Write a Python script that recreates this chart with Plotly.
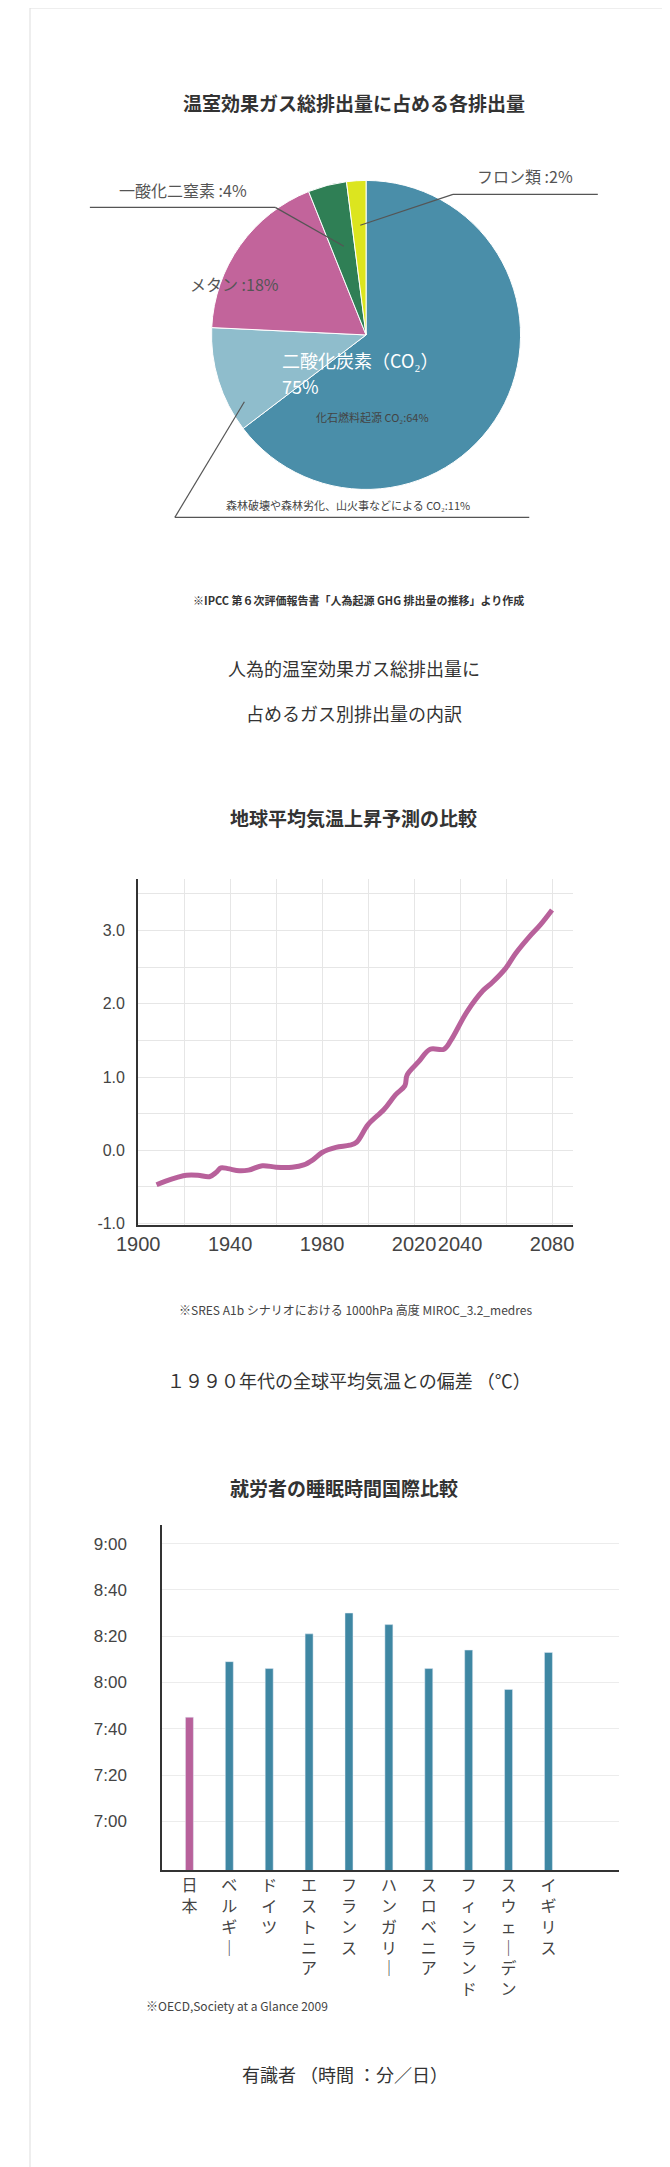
import plotly.graph_objects as go

W, H = 670, 2167

# --- pie data ---
gas_labels = ["化石燃料起源 CO₂", "森林破壊等による CO₂", "メタン", "一酸化二窒素", "フロン類"]
gas_share = [64, 11, 18, 4, 2]
gas_colors = ["#4a8ea9", "#8fbdcc", "#c2649b", "#2f7f55", "#dce51f"]

# --- line data (1990年代との偏差) ---
years = [1908, 1912, 1917, 1921, 1926, 1931, 1934, 1936, 1939, 1944, 1948, 1954, 1960,
         1967, 1972, 1976, 1980, 1986, 1992, 1995, 2000, 2007, 2012, 2016, 2017, 2022,
         2027, 2033, 2036, 2043, 2050, 2054, 2060, 2064, 2070, 2075, 2080]
temp_dev = [-0.47, -0.42, -0.37, -0.34, -0.34, -0.36, -0.30, -0.24, -0.25, -0.28, -0.27,
            -0.21, -0.23, -0.23, -0.20, -0.13, -0.03, 0.04, 0.07, 0.11, 0.35, 0.56, 0.76,
            0.88, 1.03, 1.21, 1.38, 1.38, 1.50, 1.89, 2.18, 2.29, 2.49, 2.68, 2.91, 3.08, 3.28]
year_ticks = [1900, 1940, 1980, 2020, 2040, 2080]
temp_ticks = [-1, 0, 1, 2, 3]
temp_ticktext = ["-1.0", "0.0", "1.0", "2.0", "3.0"]

# --- bar data (minutes per day) ---
countries = ["日本", "ベルギー", "ドイツ", "エストニア", "フランス", "ハンガリー",
             "スロベニア", "フィンランド", "スウェーデン", "イギリス"]
sleep_min = [465, 489, 486, 501, 510, 505, 486, 494, 477, 493]
time_ticks = [420, 440, 460, 480, 500, 520, 540]
time_ticktext = ["7:00", "7:20", "7:40", "8:00", "8:20", "8:40", "9:00"]

pink = "#b8619b"
blue = "#3f87a3"
txt = "#333333"
font_jp = "Noto Sans CJK JP"


def py(px):
    return 1 - px / H


def px_x(px):
    return px / W


def vertical(s):
    return "<br>".join("｜" if c == "ー" else c for c in s)


fig = go.Figure()

fig.add_trace(go.Pie(
    values=gas_share, labels=gas_labels, sort=False, direction="clockwise", rotation=0,
    marker=dict(colors=gas_colors, line=dict(color="white", width=1)),
    textinfo="none", hoverinfo="label+percent", showlegend=False,
    domain=dict(x=[px_x(188), px_x(508)], y=[py(487), py(169)])))

fig.add_trace(go.Scatter(
    x=years, y=temp_dev, mode="lines", line=dict(color=pink, width=5, shape="spline"),
    showlegend=False, xaxis="x", yaxis="y"))

fig.add_trace(go.Bar(
    x=list(range(len(countries))), y=sleep_min, base=0, width=0.2,
    marker=dict(color=[pink] + [blue] * (len(countries) - 1)),
    showlegend=False, xaxis="x2", yaxis="y2",
    customdata=countries, hovertemplate="%{customdata}: %{y}<extra></extra>"))

fig.update_layout(
    width=W, height=H, margin=dict(l=0, r=0, t=0, b=0),
    paper_bgcolor="white", plot_bgcolor="white",
    font=dict(family=font_jp, color=txt),
    xaxis=dict(domain=[px_x(112), px_x(562)], range=[1900, 2089], tickvals=year_ticks,
               tickangle=0, tickfont=dict(size=20, family="Liberation Sans", color="#444"),
               showgrid=False, minor=dict(dtick=20, tick0=1900, showgrid=True, gridcolor="#e6e6e6"),
               showline=True, linecolor="#333", linewidth=2, zeroline=False, ticks=""),
    yaxis=dict(domain=[py(1221), py(874)], range=[-1.02, 3.7], tickvals=temp_ticks,
               ticktext=temp_ticktext, tickfont=dict(size=16, family="Liberation Sans", color="#444"),
               gridcolor="#e6e6e6", minor=dict(dtick=0.5, tick0=0, showgrid=True, gridcolor="#e6e6e6"),
               showline=True, linecolor="#333", linewidth=2, zeroline=False, ticklabelstandoff=8),
    xaxis2=dict(domain=[px_x(137), px_x(610)], range=[-0.68, 10.77], tickvals=list(range(len(countries))),
                ticktext=[vertical(c) for c in countries], tickangle=0,
                tickfont=dict(size=16, color="#444"), showgrid=False, zeroline=False,
                showline=True, linecolor="#333", linewidth=2, ticks="", anchor="y2"),
    yaxis2=dict(domain=[py(1868), py(1522)], range=[399, 548], tickvals=time_ticks,
                ticktext=time_ticktext, tickfont=dict(size=17, family="Liberation Sans", color="#444"),
                gridcolor="#ececec", showline=True, linecolor="#333", linewidth=2,
                zeroline=False, anchor="x2", ticklabelstandoff=30),
)

notes = [
    ("温室効果ガス総排出量に占める各排出量", 335, 95, 19, txt, "center", True),
    ("フロン類 :2%", 513, 169, 16, "#555", "center", False),
    ("一酸化二窒素 :4%", 158, 183, 16, "#555", "center", False),
    ("メタン :18%", 212, 277, 16, "#555", "center", False),
    ("二酸化炭素（CO₂）", 259, 353, 18, "white", "left", False),
    ("75%", 259, 379, 18, "white", "left", False),
    ("化石燃料起源 CO₂:64%", 355, 410, 11, "#444", "center", False),
    ("森林破壊や森林劣化、山火事などによる CO₂:11%", 329, 499, 11, "#444", "center", False),
    ("※IPCC 第６次評価報告書「人為起源 GHG 排出量の推移」より作成", 340, 594, 11, "#333", "center", True),
    ("人為的温室効果ガス総排出量に", 335, 662, 18, txt, "center", False),
    ("占めるガス別排出量の内訳", 335, 707, 18, txt, "center", False),
    ("地球平均気温上昇予測の比較", 335, 812, 19, txt, "center", True),
    ("※SRES A1b シナリオにおける 1000hPa 高度 MIROC_3.2_medres", 337, 1306, 12, "#444", "center", False),
    ("１９９０年代の全球平均気温との偏差 （℃）", 330, 1376, 18, txt, "center", False),
    ("就労者の睡眠時間国際比較", 325, 1484, 19, txt, "center", True),
    ("※OECD,Society at a Glance 2009", 118, 2004, 12, "#444", "left", False),
    ("有識者 （時間 ：分／日）", 326, 2073, 18, txt, "center", False),
]
for text, x, y, size, color, align, bold in notes:
    fig.add_annotation(text=f"<b>{text}</b>" if bold else text, x=px_x(x), y=py(y),
                       xref="paper", yref="paper", xanchor=align, yanchor="middle",
                       showarrow=False, font=dict(size=size, color=color))

# leader lines for the pie labels
leaders = [
    [(588, 187), (438, 187), (342, 218)],
    [(62, 200), (254, 200), (325, 239)],
    [(222, 395), (150, 511), (517, 511)],
]
for pts in leaders:
    for (x0, y0), (x1, y1) in zip(pts[:-1], pts[1:]):
        fig.add_shape(type="line", xref="paper", yref="paper",
                      x0=px_x(x0), y0=py(y0), x1=px_x(x1), y1=py(y1),
                      line=dict(color="#555", width=1.2))

fig.add_shape(type="rect", xref="paper", yref="paper", x0=0, y0=0, x1=1, y1=1,
              line=dict(color="#dddddd", width=1))

fig.write_html("out.html")
